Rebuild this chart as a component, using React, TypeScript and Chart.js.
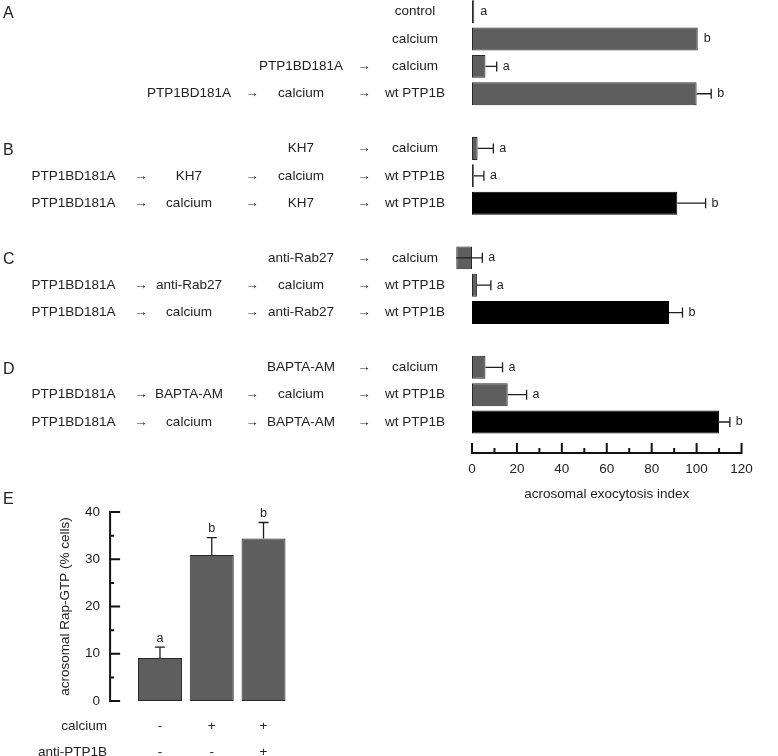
import React, { useEffect, useRef } from "react";
import { Chart, registerables } from "chart.js";

Chart.register(...registerables);

const FONT = '"Liberation Sans", Arial, Helvetica, sans-serif';
const INK = "#222222";
const GRAY = "#5e5e5e";
const EDGE = "#2a2a2a";

// ---------- Panels A–D : acrosomal exocytosis ----------
const step1 = ["", "", "", "", "", "", "PTP1BD181A", "PTP1BD181A", "", "", "PTP1BD181A", "PTP1BD181A", "", "", "PTP1BD181A", "PTP1BD181A"];
const step2 = ["", "", "", "PTP1BD181A", "", "", "KH7", "calcium", "", "", "anti-Rab27", "calcium", "", "", "BAPTA-AM", "calcium"];
const step3 = ["", "", "PTP1BD181A", "calcium", "", "KH7", "calcium", "KH7", "", "anti-Rab27", "calcium", "anti-Rab27", "", "BAPTA-AM", "calcium", "BAPTA-AM"];
const step4 = ["control", "calcium", "calcium", "wt PTP1B", "", "calcium", "wt PTP1B", "wt PTP1B", "", "calcium", "wt PTP1B", "wt PTP1B", "", "calcium", "wt PTP1B", "wt PTP1B"];
const exoValues = [1, 100.5, 6, 100, null, 2.5, 0.8, 91.4, null, -7, 2.2, 87.7, null, 6, 15.9, 110];
const exoErrors = [0, 0, 5, 6.5, null, 7, 4.5, 12.6, null, 11.6, 6.2, 6, null, 7.6, 8.4, 4.8];
const exoLetters = ["a", "b", "a", "b", "", "a", "a", "b", "", "a", "a", "b", "", "a", "a", "b"];
const exoBlack = [false, false, false, false, false, false, false, true, false, false, false, true, false, false, false, true];
const panelLetters = ["A", "", "", "", "", "B", "", "", "", "C", "", "", "", "D", "", ""];
const exoMin = 0;
const exoMax = 120;
const exoStep = 20;
const exoTitle = "acrosomal exocytosis index";

// ---------- Panel E : Rap-GTP ----------
const calciumSigns = ["-", "+", "+"];
const antiPTP1BSigns = ["-", "-", "+"];
const rapValues = [9.1, 30.9, 34.4];
const rapErrors = [2.3, 3.7, 3.4];
const rapLetters = ["a", "b", "b"];
const rapRowNames = ["calcium", "anti-PTP1B"];
const rapMin = 0;
const rapMax = 40;
const rapStep = 10;
const rapTitle = "acrosomal Rap-GTP (% cells)";

// ---------- layout constants ----------
const COL_X = [73.5, 189, 301, 415];
const ARROW_X = [141, 252, 364];
const TOP_H = 512;
const TOP_XSCALE_H = 74.33;
const AXIS_GAP = 17.3;

const BOT_W = 300;
const BOT_H = 286;
const E_PAD = 13;
const E_LINE = 25.3;

const txt = (ctx: CanvasRenderingContext2D, size: number) => {
  ctx.font = `${size}px ${FONT}`;
  ctx.fillStyle = INK;
};

const topPlugin = {
  id: "exoDecor",
  afterDatasetsDraw(chart: any) {
    const { ctx, chartArea } = chart;
    const x = chart.scales.x;
    const y = chart.scales.y;
    ctx.save();
    // whiskers
    ctx.strokeStyle = "#1e1e1e";
    ctx.lineWidth = 1.3;
    exoValues.forEach((v, i) => {
      const e = exoErrors[i];
      if (v == null || !e) return;
      const yy = y.getPixelForValue(i);
      const x0 = x.getPixelForValue(v);
      const x1 = x.getPixelForValue(v + e);
      ctx.beginPath();
      ctx.moveTo(x0, yy);
      ctx.lineTo(x1, yy);
      ctx.moveTo(x1, yy - 5);
      ctx.lineTo(x1, yy + 5);
      ctx.stroke();
    });
    // letters a/b
    txt(ctx, 12.5);
    ctx.textAlign = "left";
    ctx.textBaseline = "middle";
    exoValues.forEach((v, i) => {
      if (v == null || !exoLetters[i]) return;
      const e = exoErrors[i] || 0;
      const end = e ? v + e : Math.max(v, 0);
      ctx.fillText(exoLetters[i], x.getPixelForValue(end) + 6, y.getPixelForValue(i));
    });
    // row labels with arrows
    txt(ctx, 13.5);
    ctx.textAlign = "center";
    step4.forEach((_, i) => {
      const steps = [step1[i], step2[i], step3[i], step4[i]];
      const yy = y.getPixelForValue(i);
      steps.forEach((s, c) => {
        if (s) ctx.fillText(s, COL_X[c], yy);
      });
      for (let c = 0; c < 3; c++) {
        if (steps[c] && steps[c + 1]) ctx.fillText("\u2192", ARROW_X[c], yy);
      }
    });
    // panel letters
    txt(ctx, 16);
    ctx.textAlign = "left";
    panelLetters.forEach((p, i) => {
      if (p) ctx.fillText(p, 3, y.getPixelForValue(i) + 2);
    });
    // x axis line with inward ticks
    const ay = chartArea.bottom + AXIS_GAP;
    ctx.strokeStyle = "#111";
    ctx.lineWidth = 2;
    ctx.beginPath();
    ctx.moveTo(x.getPixelForValue(exoMin) - 1, ay);
    ctx.lineTo(x.getPixelForValue(exoMax) + 1, ay);
    for (let v = exoMin; v <= exoMax; v += exoStep / 2) {
      const px = x.getPixelForValue(v);
      const len = (v - exoMin) % exoStep === 0 ? 10 : 5;
      ctx.moveTo(px, ay);
      ctx.lineTo(px, ay - len);
    }
    ctx.stroke();
    ctx.restore();
  },
};

const botPlugin = {
  id: "rapDecor",
  afterDatasetsDraw(chart: any) {
    const { ctx, chartArea } = chart;
    const x = chart.scales.x;
    const y = chart.scales.y;
    ctx.save();
    // whiskers
    ctx.strokeStyle = "#1e1e1e";
    ctx.lineWidth = 1.3;
    rapValues.forEach((v, i) => {
      const cx = x.getPixelForValue(i);
      const y0 = y.getPixelForValue(v);
      const y1 = y.getPixelForValue(v + rapErrors[i]);
      ctx.beginPath();
      ctx.moveTo(cx, y0);
      ctx.lineTo(cx, y1);
      ctx.moveTo(cx - 5, y1);
      ctx.lineTo(cx + 5, y1);
      ctx.stroke();
    });
    txt(ctx, 12.5);
    ctx.textAlign = "center";
    ctx.textBaseline = "middle";
    rapValues.forEach((v, i) => {
      ctx.fillText(rapLetters[i], x.getPixelForValue(i), y.getPixelForValue(v + rapErrors[i]) - 9);
    });
    // y axis with inward ticks
    const ax = chartArea.left - 24;
    ctx.strokeStyle = "#111";
    ctx.lineWidth = 2;
    ctx.beginPath();
    ctx.moveTo(ax, y.getPixelForValue(rapMin) + 1);
    ctx.lineTo(ax, y.getPixelForValue(rapMax) - 1);
    for (let v = rapMin; v <= rapMax; v += rapStep / 2) {
      const py = y.getPixelForValue(v);
      const len = (v - rapMin) % rapStep === 0 ? 10 : 4;
      ctx.moveTo(ax - 1, py);
      ctx.lineTo(ax + len, py);
    }
    ctx.stroke();
    // row names of the sign table
    txt(ctx, 13.5);
    ctx.textAlign = "right";
    rapRowNames.forEach((n, r) => {
      ctx.fillText(n, ax - 3, chartArea.bottom + E_PAD + E_LINE / 2 + r * E_LINE);
    });
    // panel letter
    txt(ctx, 16);
    ctx.textAlign = "left";
    ctx.fillText("E", 3, y.getPixelForValue(rapMax) - 13);
    ctx.restore();
  },
};

export default function App() {
  const topRef = useRef<HTMLCanvasElement | null>(null);
  const botRef = useRef<HTMLCanvasElement | null>(null);

  useEffect(() => {
    const rows = step4.map((_, i) =>
      [step1[i], step2[i], step3[i], step4[i]].filter(Boolean).join(" \u2192 ")
    );
    const top = new Chart(topRef.current as HTMLCanvasElement, {
      type: "bar",
      data: {
        labels: rows,
        datasets: [
          {
            data: exoValues as any,
            backgroundColor: exoBlack.map((b) => (b ? "#000" : GRAY)),
            borderColor: exoBlack.map((b) => (b ? "#000" : EDGE)),
            borderWidth: 1,
            borderSkipped: false,
            barPercentage: 0.84,
            categoryPercentage: 1,
            clip: false,
          },
        ],
      },
      options: {
        indexAxis: "y",
        responsive: false,
        animation: false,
        events: [],
        layout: { padding: { left: 0, right: 11, top: 0, bottom: 0 } },
        plugins: { legend: { display: false }, tooltip: { enabled: false } },
        scales: {
          x: {
            type: "linear",
            min: exoMin,
            max: exoMax,
            grid: { display: false, drawTicks: false },
            border: { display: false },
            ticks: {
              stepSize: exoStep,
              padding: 25.2,
              color: INK,
              font: { family: FONT, size: 13.5 },
              maxRotation: 0,
            },
            title: {
              display: true,
              text: exoTitle,
              color: INK,
              font: { family: FONT, size: 13.5 },
              padding: { top: 0, bottom: 7.9 },
            },
            afterFit: (s: any) => {
              s.height = TOP_XSCALE_H;
            },
          },
          y: {
            type: "category",
            grid: { display: false, drawTicks: false },
            border: { display: false },
            ticks: { display: false },
            afterFit: (s: any) => {
              s.width = 472;
            },
          },
        },
      },
      plugins: [topPlugin],
    } as any);

    const bot = new Chart(botRef.current as HTMLCanvasElement, {
      type: "bar",
      data: {
        labels: calciumSigns.map((s, i) => [s, antiPTP1BSigns[i]]),
        datasets: [
          {
            data: rapValues,
            backgroundColor: GRAY,
            borderColor: EDGE,
            borderWidth: 1,
            borderSkipped: false,
            barPercentage: 0.85,
            categoryPercentage: 1,
          },
        ],
      },
      options: {
        responsive: false,
        animation: false,
        events: [],
        layout: { padding: { left: 0, right: BOT_W - 289.4, top: 35, bottom: 0 } },
        plugins: { legend: { display: false }, tooltip: { enabled: false } },
        scales: {
          x: {
            type: "category",
            grid: { display: false, drawTicks: false },
            border: { display: false },
            ticks: {
              padding: E_PAD,
              color: INK,
              maxRotation: 0,
              autoSkip: false,
              font: { family: FONT, size: 13.5, lineHeight: E_LINE / 13.5 },
            },
            afterFit: (s: any) => {
              s.height = 55;
            },
          },
          y: {
            type: "linear",
            min: rapMin,
            max: rapMax,
            grid: { display: false, drawTicks: false },
            border: { display: false },
            ticks: {
              stepSize: rapStep,
              padding: 34,
              color: INK,
              font: { family: FONT, size: 13.5 },
            },
            title: {
              display: true,
              text: rapTitle,
              color: INK,
              font: { family: FONT, size: 13.5 },
              padding: { top: 56.9, bottom: 0 },
            },
            afterFit: (s: any) => {
              s.width = 134.1;
            },
          },
        },
      },
      plugins: [botPlugin],
    } as any);

    return () => {
      top.destroy();
      bot.destroy();
    };
  }, []);

  return (
    <div
      style={{
        position: "absolute",
        left: 0,
        top: 0,
        width: 778,
        height: 756,
        overflow: "hidden",
        background: "#fff",
      }}
    >
      <canvas
        ref={topRef}
        width={778}
        height={TOP_H}
        style={{ position: "absolute", left: 0, top: -2, width: 778, height: TOP_H }}
      />
      <canvas
        ref={botRef}
        width={BOT_W}
        height={BOT_H}
        style={{ position: "absolute", left: 0, top: 470, width: BOT_W, height: BOT_H }}
      />
    </div>
  );
}
